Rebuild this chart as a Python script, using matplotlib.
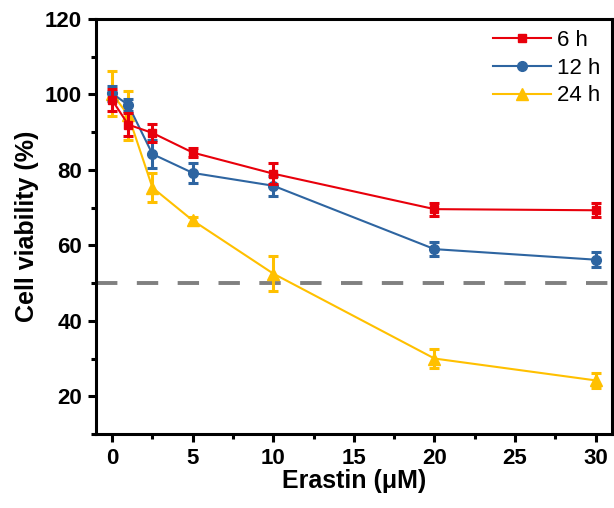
import matplotlib
matplotlib.use('Agg')
import matplotlib.pyplot as plt
from matplotlib.ticker import MultipleLocator

# Erastin dose (uM) and viability (%) with SD for each exposure time
dose = [0, 1, 2.5, 5, 10, 20, 30]

via_6h = [98.5, 92.0, 89.8, 84.6, 79.0, 69.6, 69.3]
sd_6h = [3.0, 3.0, 2.5, 1.2, 2.8, 1.7, 1.8]

via_12h = [100.3, 97.2, 84.2, 79.2, 75.8, 59.0, 56.2]
sd_12h = [2.0, 1.5, 3.8, 2.7, 2.7, 1.9, 2.0]

via_24h = [100.2, 94.5, 75.3, 66.6, 52.5, 30.0, 24.2]
sd_24h = [6.0, 6.5, 3.8, 1.0, 4.7, 2.5, 2.0]

threshold = 50

plt.rcParams['font.family'] = ['Liberation Sans', 'DejaVu Sans']

fig = plt.figure(figsize=(6.14, 5.08), dpi=100)
ax = fig.add_axes([0.1564, 0.1457, 0.84, 0.8169])

ax.axhline(threshold, color='#808080', lw=2.8, ls=(0, (5.5, 5)), zorder=1)

series = [
    (via_24h, sd_24h, '#FFC000', '^', 8, '24 h', 2),
    (via_12h, sd_12h, '#2E65A1', 'o', 7, '12 h', 3),
    (via_6h, sd_6h, '#E8000B', 's', 6, '6 h', 4),
]
handles = {}
for vals, err, col, mk, ms, lab, z in series:
    h = ax.errorbar(dose, vals, yerr=err, color=col, marker=mk, ms=ms, lw=1.5,
                    elinewidth=2.2, capsize=3.8, capthick=2.2, label=lab, zorder=z)
    handles[lab] = h

ax.set_xlim(-1, 31)
ax.set_ylim(10, 120)
ax.xaxis.set_major_locator(MultipleLocator(5))
ax.xaxis.set_minor_locator(MultipleLocator(2.5))
ax.yaxis.set_major_locator(MultipleLocator(20))
ax.yaxis.set_minor_locator(MultipleLocator(10))
ax.set_yticks([20, 40, 60, 80, 100, 120])

for s in ax.spines.values():
    s.set_linewidth(2.2)
ax.tick_params(which='major', direction='out', length=6, width=2.2,
               labelsize=16, pad=4)
ax.tick_params(which='minor', direction='out', length=3.5, width=2.2)
for lbl in ax.get_xticklabels() + ax.get_yticklabels():
    lbl.set_fontweight('bold')

ax.set_xlabel('Erastin (μM)', fontsize=18, fontweight='bold', labelpad=0)
ax.set_ylabel('Cell viability (%)', fontsize=18, fontweight='bold', labelpad=4)

order = ['6 h', '12 h', '24 h']
leg = ax.legend([handles[k][0] for k in order], order, loc='upper right',
                frameon=False, fontsize=16, handlelength=2.6, handletextpad=0.3,
                labelspacing=0.3, borderaxespad=0.1)

fig.savefig('out.png', dpi=100)
